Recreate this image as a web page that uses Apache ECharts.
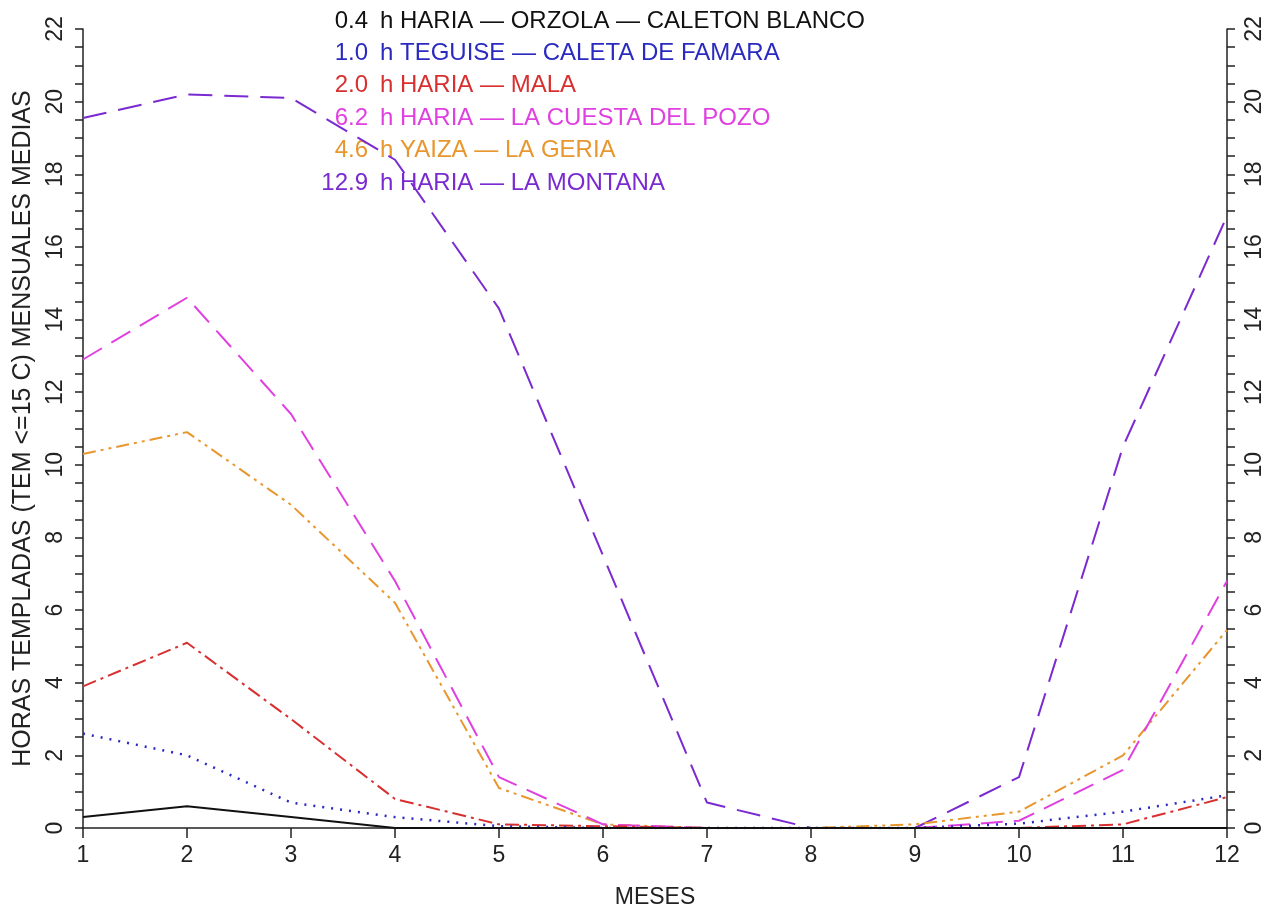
<!DOCTYPE html>
<html><head><meta charset="utf-8">
<script src="https://cdn.jsdelivr.net/npm/echarts@6/dist/echarts.min.js"></script>
<style>html,body{margin:0;padding:0;background:#fff}#c{width:1280px;height:911px}</style>
</head><body><div id="c"></div>
<script>
const months = [1,2,3,4,5,6,7,8,9,10,11,12];
const hours = ['0.4','1.0','2.0','6.2','4.6','12.9'];
const names = ['HARIA \u2014 ORZOLA \u2014 CALETON BLANCO','TEGUISE \u2014 CALETA DE FAMARA','HARIA \u2014 MALA','HARIA \u2014 LA CUESTA DEL POZO','YAIZA \u2014 LA GERIA','HARIA \u2014 LA MONTANA'];
const orzola   = [0.3,0.6,0.3,0.0,0,0,0,0,0,0,0,0];
const famara   = [2.6,2.0,0.7,0.3,0.05,0,0,0,0,0.12,0.45,0.9];
const mala     = [3.9,5.1,3.0,0.8,0.1,0.05,0,0,0,0,0.1,0.85];
const cuesta   = [12.9,14.6,11.4,6.8,1.4,0.1,0,0,0,0.2,1.6,6.8];
const geria    = [10.3,10.9,8.9,6.2,1.1,0.1,0,0,0.1,0.45,2.0,5.45];
const montana  = [19.55,20.2,20.1,18.4,14.3,7.5,0.7,0,0,1.4,10.5,16.85];
const seriesData = [orzola,famara,mala,cuesta,geria,montana];
const colors = ['#111111','#2a2ac0','#d83030','#e040e0','#e8962e','#7a2ad0'];
const dashes = ['solid',[2,7],[14,5,3,5],[22,11],[13,5,3,5,3,5],[24,12]];

const chart = echarts.init(document.getElementById('c'));
const FONT = 'Liberation Sans';
const axisLab = {fontFamily:FONT,fontSize:23,color:'#222'};
const yCommon = {
  type:'value',min:0,max:22,interval:2,
  axisLine:{show:true,lineStyle:{color:'#222',width:1.5}},
  axisTick:{show:true,length:8,lineStyle:{color:'#222',width:1.5}},
  minorTick:{show:true,splitNumber:4,length:8,lineStyle:{color:'#222',width:1.5}},
  splitLine:{show:false},
  axisLabel:Object.assign({rotate:90,margin:16},axisLab)
};
const graphics = [];
hours.forEach((h,i)=>{
  const y = 21 + i*32.4;
  graphics.push({type:'text',x:368,y:y,style:{text:h,fill:colors[i],font:'24px '+FONT,textAlign:'right',textVerticalAlign:'middle'}});
  graphics.push({type:'text',x:380,y:y,style:{text:'h '+names[i],fill:colors[i],font:'24px '+FONT,textAlign:'left',textVerticalAlign:'middle'}});
});
chart.setOption({
  animation:false,
  backgroundColor:'#fff',
  grid:{left:83,right:53,top:29,bottom:83,containLabel:false,outerBoundsMode:'none'},
  xAxis:{type:'value',min:1,max:12,interval:1,
    name:'MESES',nameLocation:'middle',nameGap:58,nameTextStyle:{fontFamily:FONT,fontSize:23,color:'#222'},
    axisLine:{lineStyle:{color:'#222',width:1.5}},
    axisTick:{length:10,lineStyle:{color:'#222',width:1.5}},
    splitLine:{show:false},
    axisLabel:Object.assign({margin:16},axisLab)},
  yAxis:[
    Object.assign({},yCommon,{position:'left',name:'HORAS TEMPLADAS (TEM <=15 C) MENSUALES MEDIAS',nameLocation:'middle',nameGap:47,nameTextStyle:{fontFamily:FONT,fontSize:25,color:'#222'}}),
    Object.assign({},yCommon,{position:'right'})
  ],
  series: seriesData.map((d,i)=>({
    type:'line',name:names[i],data:d.map((v,j)=>[months[j],v]),
    showSymbol:false,symbol:'none',
    lineStyle:{color:colors[i],width:i===1?2.5:2,type:dashes[i]},
    z:10-i
  })),
  graphic:graphics
});
</script></body></html>
